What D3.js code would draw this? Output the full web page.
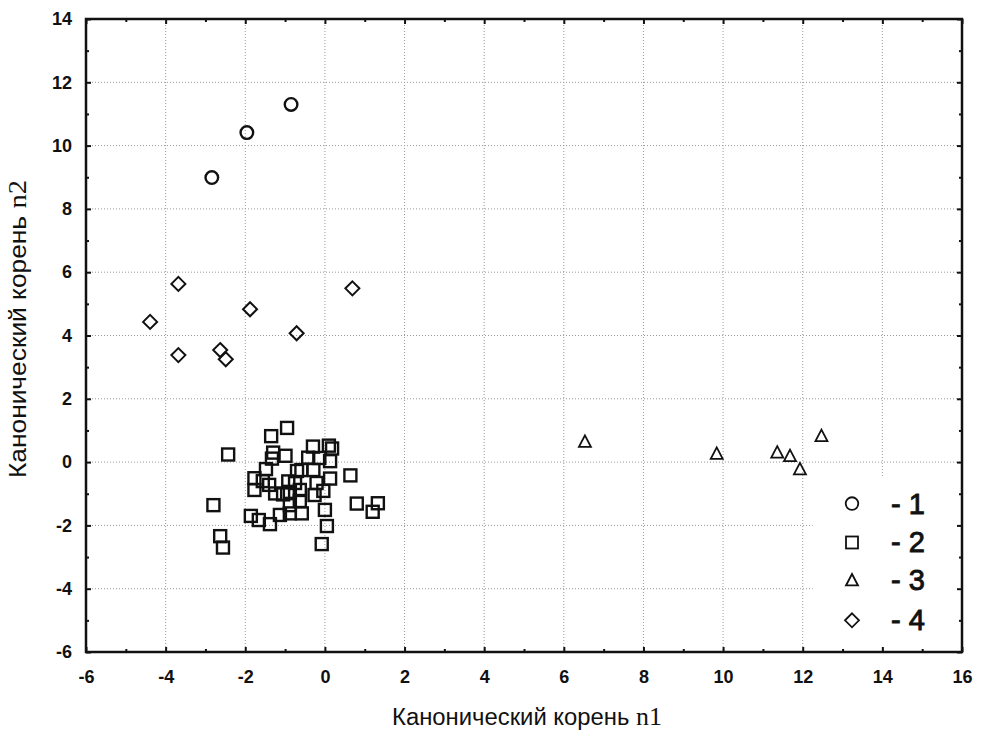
<!DOCTYPE html>
<html><head><meta charset="utf-8">
<script src="https://cdn.jsdelivr.net/npm/d3@7"></script>
<style>body{margin:0;background:#fff}</style>
</head><body>
<svg id="c" width="981" height="730"></svg>
<script>
const xTicks = [-6,-4,-2,0,2,4,6,8,10,12,14,16];
const yTicks = [-6,-4,-2,0,2,4,6,8,10,12,14];
const legendLabels = ["- 1","- 2","- 3","- 4"];
const group1 = [[-0.85,11.30],[-1.96,10.41],[-2.84,8.99]];
const group2 = [[-0.95,1.08],[-1.35,0.82],[-2.43,0.24],[-0.30,0.49],[0.10,0.52],[0.18,0.43],[-1.30,0.30],[-1.33,0.11],[-0.99,0.20],[-0.42,0.14],[-0.14,0.13],[0.13,0.03],[-1.48,-0.22],[-1.77,-0.51],[-1.77,-0.88],[-1.40,-0.72],[-0.92,-0.61],[-0.70,-0.28],[-0.59,-0.25],[-0.29,-0.25],[0.64,-0.42],[0.13,-0.52],[-0.21,-0.66],[-1.25,-0.99],[-1.05,-1.02],[-0.63,-0.88],[-0.26,-1.04],[-0.88,-0.94],[-0.04,-0.91],[-0.63,-1.23],[-0.88,-1.36],[-2.80,-1.36],[0.00,-1.51],[0.80,-1.31],[1.33,-1.30],[1.20,-1.57],[-1.86,-1.70],[-1.66,-1.83],[-1.38,-1.96],[-1.13,-1.67],[-0.88,-1.62],[-0.58,-1.62],[0.05,-2.02],[-2.63,-2.34],[-2.56,-2.70],[-0.08,-2.59],[-1.56,-0.60],[-0.75,-0.66]];
const group3 = [[6.53,0.64],[9.84,0.26],[11.36,0.30],[11.68,0.19],[11.93,-0.23],[12.47,0.82]];
const group4 = [[-3.68,5.63],[-4.39,4.43],[-3.68,3.38],[-2.63,3.54],[-2.49,3.25],[-1.88,4.83],[-0.71,4.07],[0.69,5.49]];

const L=86,R=962,T=19,B=652;
const x=d3.scaleLinear().domain([-6,16]).range([L,R]);
const y=d3.scaleLinear().domain([-6,14]).range([B,T]);
const svg=d3.select("#c");
const font="'Liberation Sans',Arial,sans-serif";
const fmt=d=>String(d);

// grid
const g=svg.append("g");
g.selectAll(".gx").data(xTicks.filter(v=>v>-6&&v<16)).join("line")
 .attr("x1",d=>x(d)).attr("x2",d=>x(d)).attr("y1",T).attr("y2",B)
 .attr("stroke","#999").attr("stroke-width",1).attr("stroke-dasharray","1,2");
g.selectAll(".gy").data(yTicks.filter(v=>v>-6&&v<14)).join("line")
 .attr("y1",d=>y(d)).attr("y2",d=>y(d)).attr("x1",L).attr("x2",R)
 .attr("stroke","#999").attr("stroke-width",1).attr("stroke-dasharray","1,2");

// legend background
svg.append("rect").attr("x",x(12.25)).attr("y",y(-0.5)).attr("width",R-x(12.25)).attr("height",B-y(-0.5)).attr("fill","#fff");

// axes with inward ticks
const minorX=d3.range(-5,16,2), minorY=d3.range(-5,14,2);
svg.append("g").attr("transform",`translate(0,${B})`).call(d3.axisBottom(x).tickValues(xTicks).tickSize(-5).tickPadding(18).tickFormat(fmt));
svg.append("g").attr("transform",`translate(0,${T})`).call(d3.axisTop(x).tickValues(xTicks).tickSize(-5).tickFormat(""));
svg.append("g").attr("transform",`translate(${L},0)`).call(d3.axisLeft(y).tickValues(yTicks).tickSize(-5).tickPadding(14).tickFormat(fmt));
svg.append("g").attr("transform",`translate(${R},0)`).call(d3.axisRight(y).tickValues(yTicks).tickSize(-5).tickFormat(""));
svg.append("g").attr("transform",`translate(0,${B})`).call(d3.axisBottom(x).tickValues(minorX).tickSize(-3).tickFormat(""));
svg.append("g").attr("transform",`translate(0,${T})`).call(d3.axisTop(x).tickValues(minorX).tickSize(-3).tickFormat(""));
svg.append("g").attr("transform",`translate(${L},0)`).call(d3.axisLeft(y).tickValues(minorY).tickSize(-3).tickFormat(""));
svg.append("g").attr("transform",`translate(${R},0)`).call(d3.axisRight(y).tickValues(minorY).tickSize(-3).tickFormat(""));
svg.selectAll(".domain").attr("stroke","none");
svg.selectAll(".tick line").attr("stroke","#111").attr("stroke-width",2);
svg.selectAll(".tick text").attr("font-family",font).attr("font-size",18).attr("font-weight","bold").attr("fill","#111");
svg.append("rect").attr("x",L).attr("y",T).attr("width",R-L).attr("height",B-T).attr("fill","none").attr("stroke","#111").attr("stroke-width",2.5);

// markers
const sym={
 circle:(s,px,py)=>s.append("circle").attr("cx",px).attr("cy",py).attr("r",6.3),
 square:(s,px,py)=>s.append("rect").attr("x",px-6).attr("y",py-6).attr("width",12).attr("height",12),
 triangle:(s,px,py)=>s.append("path").attr("d",`M${px},${py-6.5}L${px+6},${py+5}L${px-6},${py+5}Z`),
 diamond:(s,px,py)=>s.append("path").attr("d",`M${px},${py-7}L${px+7},${py}L${px},${py+7}L${px-7},${py}Z`)
};
const pts=svg.append("g").attr("fill","none").attr("stroke","#111");
const groups=[[group1,"circle",2.4],[group2,"square",2.4],[group3,"triangle",1.8],[group4,"diamond",2]];
groups.forEach(([data,s,w])=>{
 const gg=pts.append("g").attr("stroke-width",w);
 data.forEach(d=>sym[s](gg,x(d[0]),y(d[1])));
});

// legend
const legY=[-1.31,-2.54,-3.74,-5.0];
const lg=svg.append("g");
groups.forEach(([data,s,w],i)=>{
 const gg=lg.append("g").attr("fill","none").attr("stroke","#111").attr("stroke-width",1.8);
 sym[s](gg,852,y(legY[i]));
 lg.append("text").attr("x",891).attr("y",y(legY[i])+10).attr("font-family",font).attr("font-size",29)
   .attr("fill","#111").attr("stroke","#111").attr("stroke-width",0.9).text(legendLabels[i]);
});

// titles
const xt=svg.append("text").attr("x",527).attr("y",725).attr("text-anchor","middle").attr("font-family",font).attr("font-size",23).attr("fill","#111")
 .attr("textLength",270).attr("lengthAdjust","spacingAndGlyphs");
xt.append("tspan").text("Канонический корень ");
xt.append("tspan").attr("font-family","'Liberation Serif','Times New Roman',serif").attr("font-size",25).text("n1");
const yt=svg.append("text").attr("transform","translate(26,329) rotate(-90)").attr("text-anchor","middle").attr("font-family",font).attr("font-size",23).attr("fill","#111")
 .attr("textLength",298).attr("lengthAdjust","spacingAndGlyphs");
yt.append("tspan").text("Канонический корень ");
yt.append("tspan").attr("font-family","'Liberation Serif','Times New Roman',serif").attr("font-size",25).text("n2");
</script>
</body></html>
